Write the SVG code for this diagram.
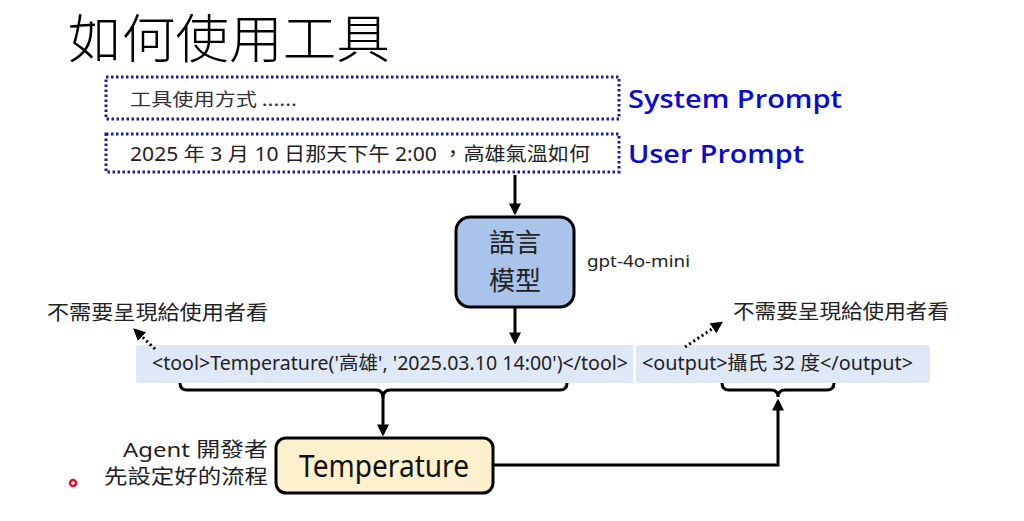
<svg xmlns="http://www.w3.org/2000/svg" width="1024" height="521" viewBox="0 0 1024 521">
<style>
text{font-family:"Noto Sans","Noto Sans CJK TC",sans-serif;}
.cjk{font-family:"Noto Sans CJK TC","Noto Sans",sans-serif;}
.dotbox{fill:#fff;stroke:#1a1aa6;stroke-width:3;stroke-dasharray:2.5 2.5;}
.lbl{fill:#0a0ad0;font-weight:600;font-size:26px;font-family:"Open Sans","Noto Sans",sans-serif;}
.line{fill:none;stroke:#000;stroke-width:3;}
.dots{fill:none;stroke:#000;stroke-width:3;stroke-dasharray:2 3;}
.strip{fill:#dfe8f6;}
.code{fill:#222;font-size:19px;}
.note{fill:#222;font-size:20px;}
</style>
<defs>
<marker id="ah" viewBox="0 0 10 10" refX="8" refY="5" markerWidth="4" markerHeight="4" orient="auto"><path d="M0,0 L10,5 L0,10 z" fill="#000"/></marker>
</defs>
<rect width="1024" height="521" fill="#fff"/>
<text class="cjk" x="68" y="58" font-size="52" fill="#000" textLength="322" lengthAdjust="spacingAndGlyphs" font-weight="300">如何使用工具</text>

<g id="system-prompt">
<rect class="dotbox" x="106" y="77" width="513" height="42"/>
<text class="cjk" x="130" y="106" font-size="18" fill="#333" textLength="167" lengthAdjust="spacingAndGlyphs">工具使用方式 ......</text>
<text class="lbl" x="628" y="108" textLength="214" lengthAdjust="spacingAndGlyphs">System Prompt</text>
</g>
<g id="user-prompt">
<rect class="dotbox" x="106" y="134" width="513" height="38"/>
<text x="130" y="161" font-size="19" fill="#222" textLength="460" lengthAdjust="spacingAndGlyphs">2025 年 3 月 10 日那天下午 2:00 ，高雄氣溫如何</text>
<text class="lbl" x="628" y="163" textLength="176" lengthAdjust="spacingAndGlyphs">User Prompt</text>
</g>

<g id="llm">
<rect x="456" y="217" width="118" height="90" rx="14" fill="#a9c3ea" stroke="#000" stroke-width="3"/>
<text class="cjk" x="515" y="252" font-size="26" fill="#222" text-anchor="middle">語言</text>
<text class="cjk" x="515" y="290" font-size="26" fill="#222" text-anchor="middle">模型</text>
<text x="587" y="267" font-size="17" fill="#222" textLength="103" lengthAdjust="spacingAndGlyphs">gpt-4o-mini</text>
</g>

<g id="tool-call">
<rect class="strip" x="136" y="345" width="497" height="38" rx="3"/>
<text class="code" x="152" y="370" textLength="476" lengthAdjust="spacingAndGlyphs">&lt;tool&gt;Temperature('高雄', '2025.03.10 14:00')&lt;/tool&gt;</text>
</g>
<g id="tool-output">
<rect class="strip" x="636" y="345" width="294" height="38" rx="3"/>
<text class="code" x="642" y="370" textLength="271" lengthAdjust="spacingAndGlyphs">&lt;output&gt;攝氏 32 度&lt;/output&gt;</text>
</g>

<g id="note-left">
<text class="note cjk" x="47" y="320" textLength="221" lengthAdjust="spacingAndGlyphs">不需要呈現給使用者看</text>
</g>
<g id="note-right">
<text class="note cjk" x="733" y="319" textLength="216" lengthAdjust="spacingAndGlyphs">不需要呈現給使用者看</text>
</g>

<g id="temperature">
<rect x="276" y="438" width="217" height="55" rx="10" fill="#fdf0cc" stroke="#000" stroke-width="3"/>
<text x="384" y="477" font-size="30" fill="#111" text-anchor="middle" textLength="170" lengthAdjust="spacingAndGlyphs">Temperature</text>
</g>

<g id="agent-note">
<text class="note" x="123" y="457" font-size="21" textLength="145" lengthAdjust="spacingAndGlyphs">Agent 開發者</text>
<text class="note cjk" x="104" y="484" font-size="21" textLength="164" lengthAdjust="spacingAndGlyphs">先設定好的流程</text>
</g>

<g id="connectors">
<line class="line" x1="515" y1="175" x2="515" y2="213" marker-end="url(#ah)"/>
<line class="line" x1="515" y1="307" x2="515" y2="342" marker-end="url(#ah)"/>
<path class="line" d="M180,383 Q180,390 187,390 L376,390 Q383,390 383,398 Q383,390 390,390 L560,390 Q567,390 567,383"/>
<line class="line" x1="383" y1="397" x2="383" y2="434" marker-end="url(#ah)"/>
<path class="line" d="M722,383 Q722,390 729,390 L771,390 Q778,390 778,397 Q778,390 785,390 L827,390 Q834,390 834,383"/>
<path class="line" d="M493,465 L778,465 L778,401" marker-end="url(#ah)"/>
<line class="dots" x1="155" y1="349" x2="135" y2="330" marker-end="url(#ah)"/>
<line class="dots" x1="685" y1="347" x2="721" y2="323" marker-end="url(#ah)"/>
</g>

<circle cx="73" cy="483" r="3" fill="#fff" stroke="#e0102a" stroke-width="2.5"/>
</svg>
